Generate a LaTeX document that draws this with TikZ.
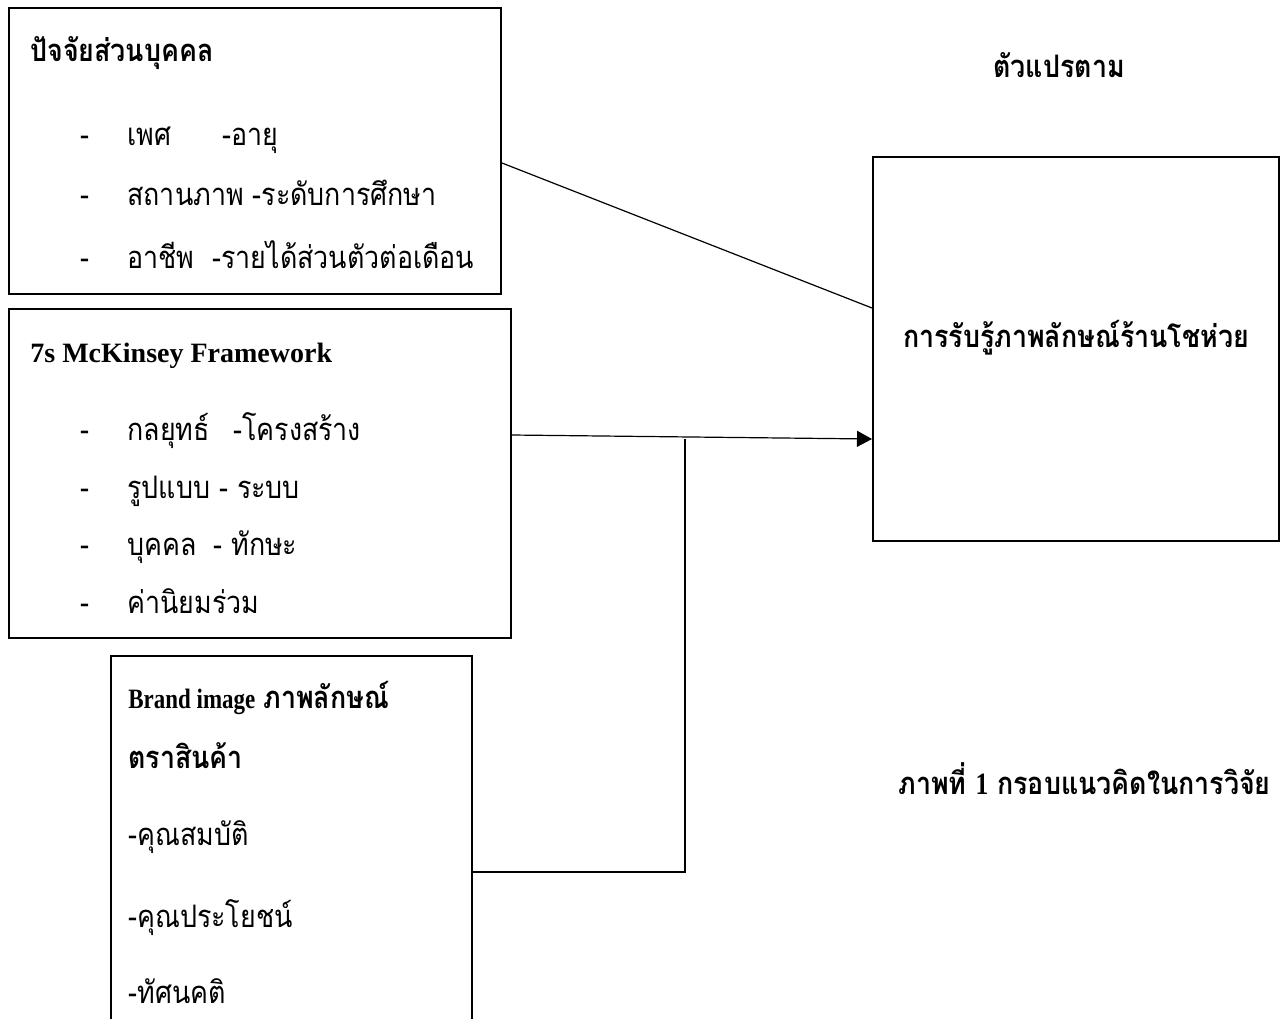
\documentclass[tikz,border=0pt]{standalone}
\usepackage{fontspec}
\setmainfont{Liberation Serif}
\newfontfamily\thai[Script=Thai,FakeStretch=0.865]{Loma}
\newfontfamily\narrowlat[FakeStretch=0.82]{Liberation Serif}
\usetikzlibrary{arrows.meta}
\begin{document}
\begin{tikzpicture}[x=0.5pt,y=-0.5pt,
  box/.style={draw,line width=1pt,inner sep=0pt},
  openbox/.style={inner sep=0pt},
  boxline/.style={line width=1pt},
  conn/.style={line width=0.6pt},
  txt/.style={anchor=base west,inner sep=0pt,font=\thai\fontsize{15.5}{18}\selectfont},
  ttl/.style={anchor=base west,inner sep=0pt,font=\thai\bfseries\fontsize{15.5}{18}\selectfont},
  lat/.style={font=\rmfamily\bfseries\fontsize{14}{17}\selectfont}]
\useasboundingbox (0,0) rectangle (1281,1019);
% boxes
\node[box,minimum width=246pt,minimum height=143pt] (b1) at (255,151) {};
\node[box,minimum width=251pt,minimum height=164.5pt] (b2) at (260,473.5) {};
\node[openbox,minimum width=180.5pt,minimum height=181.5pt] (b3) at (291.5,837.5) {};
\draw[boxline] (b3.south west) -- (b3.north west) -- (b3.north east) -- (b3.south east);
\node[box,minimum width=203pt,minimum height=192pt] (b4) at (1076,349) {};
% box 1 texts
\node[ttl] (t1) at (30,61) {ปัจจัยส่วนบุคคล};
\node[txt] (d11) at (80,145) {-};
\node[txt] (t11) at (127,145) {เพศ};
\node[txt] (t12) at (222,145) {-อายุ};
\node[txt] (d12) at (80,205) {-};
\node[txt] (t13) at (127,205) {สถานภาพ -ระดับการศึกษา};
\node[txt] (d13) at (80,268) {-};
\node[txt] (t14) at (127,268) {อาชีพ~ -รายได้ส่วนตัวต่อเดือน};
% box 2 texts
\node[anchor=base west,inner sep=0pt,lat] (t2) at (30,362) {7s McKinsey Framework};
\node[txt] (d21) at (80,440) {-};
\node[txt] (t21) at (127,440) {กลยุทธ์};
\node[txt] (t22) at (233,440) {-โครงสร้าง};
\node[txt] (d22) at (80,498) {-};
\node[txt] (t23) at (127,498) {รูปแบบ - ระบบ};
\node[txt] (d23) at (80,555) {-};
\node[txt] (t25) at (127,555) {บุคคล};
\node[txt] (t26) at (213,555) {- ทักษะ};
\node[txt] (d24) at (80,613) {-};
\node[txt] (t27) at (127,613) {ค่านิยมร่วม};
% box 3 texts
\node[anchor=base west,inner sep=0pt,font=\narrowlat\bfseries\fontsize{14}{17}\selectfont] (t3a) at (128,708) {Brand image};
\node[ttl] (t3b) at (263,708) {ภาพลักษณ์};
\node[ttl] (t3c) at (128,768) {ตราสินค้า};
\node[txt] (t31) at (128,845) {-คุณสมบัติ};
\node[txt] (t32) at (128,927) {-คุณประโยชน์};
\node[txt] (t33) at (128,1003) {-ทัศนคติ};
% right side texts
\node[ttl] (t4) at (993,77) {ตัวแปรตาม};
\node[anchor=base,inner sep=0pt,font=\thai\bfseries\fontsize{15.5}{18}\selectfont] (t5) at (1076,347) {การรับรู้ภาพลักษณ์ร้านโชห่วย};
\node[ttl] (t6) at (898,794) {ภาพที่ {\narrowlat\bfseries 1} กรอบแนวคิดในการวิจัย};
% connectors
\coordinate (c1) at (0,163);
\coordinate (c2) at (0,308);
\coordinate (c3) at (0,435);
\coordinate (c4) at (0,439);
\coordinate (jt) at (685,439);
\coordinate (jb) at (685,872);
\draw[conn] (b1.east |- c1) -- (b4.west |- c2);
\draw[conn,-{Triangle[length=7.5pt,width=8pt]}] (b2.east |- c3) -- (b4.west |- c4);
\draw[conn] (jt) -- (jb) -- (b3.east |- jb);
\end{tikzpicture}
\end{document}
